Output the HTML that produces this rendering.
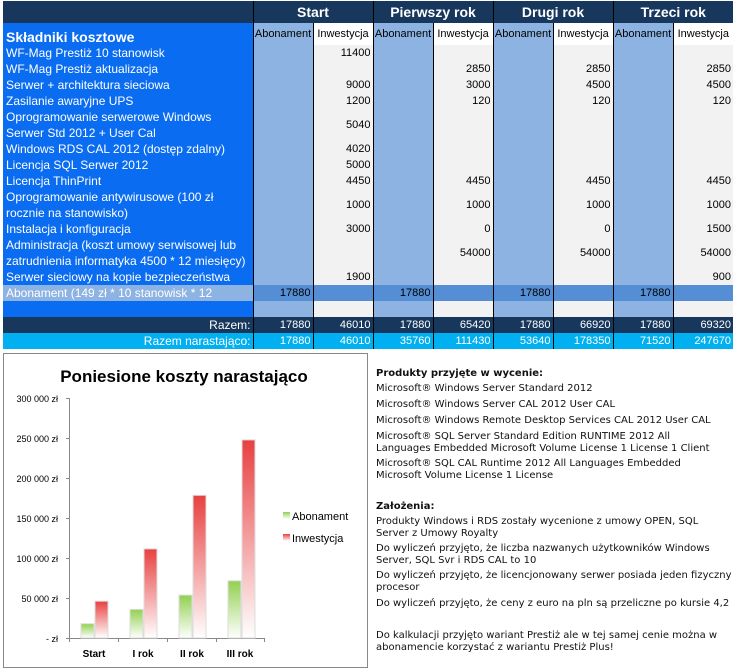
<!DOCTYPE html>
<html><head><meta charset="utf-8"><style>
body{margin:0;width:738px;height:672px;background:#fff;position:relative;overflow:hidden;font-family:"Liberation Sans",sans-serif}
table{position:absolute;left:3px;top:1px;border-collapse:collapse;table-layout:fixed;width:730px}
td{padding:0 2px;font-size:11px;height:16px;line-height:16px;white-space:nowrap;overflow:hidden}
td.l{background:#0a6cf0;color:#fff;font-size:12px;padding-left:3px;white-space:normal}
td.a{background:#8db3e2;text-align:right;border-left:1px solid #000}
td.i{background:#f2f2f2;text-align:right;border-left:1px solid #000}
tr.h1 td{background:#17375d;color:#fff;font-weight:bold;font-size:14px;text-align:center;height:22px;border-left:1px solid #000}
tr.h2 td{height:22px;font-size:11px;text-align:center;border-left:1px solid #000;padding:0}
tr.ab td{background:#558ed5}
tr.ab td.l{background:#8db3e2;color:#fff}
tr.rz td{background:#17375d;color:#fff;text-align:right}
tr.rn td{background:#00b0f0;color:#fff;text-align:right}
.t{position:absolute;left:376px;font-family:"DejaVu Sans",sans-serif;font-size:10px;color:#111;white-space:nowrap;line-height:12px}
</style></head><body>
<table>
<colgroup><col style="width:250px"><col span="8" style="width:60px"></colgroup>
<tr class="h1"><td style="border-left:none"></td><td colspan="2">Start</td><td colspan="2">Pierwszy rok</td><td colspan="2">Drugi rok</td><td colspan="2">Trzeci rok</td></tr>
<tr class="h2"><td class="l" style="font-weight:bold;font-size:14px;text-align:left;border-left:none;padding-left:3px;vertical-align:bottom">Składniki kosztowe</td><td style="background:#8db3e2">Abonament</td><td style="background:#fff">Inwestycja</td><td style="background:#8db3e2">Abonament</td><td style="background:#fff">Inwestycja</td><td style="background:#8db3e2">Abonament</td><td style="background:#fff">Inwestycja</td><td style="background:#8db3e2">Abonament</td><td style="background:#fff">Inwestycja</td></tr>
<tr><td class="l">WF-Mag Prestiż 10 stanowisk</td><td class="a"></td><td class="i">11400</td><td class="a"></td><td class="i"></td><td class="a"></td><td class="i"></td><td class="a"></td><td class="i"></td></tr>
<tr><td class="l">WF-Mag Prestiż aktualizacja</td><td class="a"></td><td class="i"></td><td class="a"></td><td class="i">2850</td><td class="a"></td><td class="i">2850</td><td class="a"></td><td class="i">2850</td></tr>
<tr><td class="l">Serwer + architektura sieciowa</td><td class="a"></td><td class="i">9000</td><td class="a"></td><td class="i">3000</td><td class="a"></td><td class="i">4500</td><td class="a"></td><td class="i">4500</td></tr>
<tr><td class="l">Zasilanie awaryjne UPS</td><td class="a"></td><td class="i">1200</td><td class="a"></td><td class="i">120</td><td class="a"></td><td class="i">120</td><td class="a"></td><td class="i">120</td></tr>
<tr><td class="l" style="height:32px">Oprogramowanie serwerowe Windows<br>Serwer Std 2012 + User Cal</td><td class="a"></td><td class="i">5040</td><td class="a"></td><td class="i"></td><td class="a"></td><td class="i"></td><td class="a"></td><td class="i"></td></tr>
<tr><td class="l">Windows RDS CAL 2012 (dostęp zdalny)</td><td class="a"></td><td class="i">4020</td><td class="a"></td><td class="i"></td><td class="a"></td><td class="i"></td><td class="a"></td><td class="i"></td></tr>
<tr><td class="l">Licencja SQL Serwer 2012</td><td class="a"></td><td class="i">5000</td><td class="a"></td><td class="i"></td><td class="a"></td><td class="i"></td><td class="a"></td><td class="i"></td></tr>
<tr><td class="l">Licencja ThinPrint</td><td class="a"></td><td class="i">4450</td><td class="a"></td><td class="i">4450</td><td class="a"></td><td class="i">4450</td><td class="a"></td><td class="i">4450</td></tr>
<tr><td class="l" style="height:32px">Oprogramowanie antywirusowe (100 zł<br>rocznie na stanowisko)</td><td class="a"></td><td class="i">1000</td><td class="a"></td><td class="i">1000</td><td class="a"></td><td class="i">1000</td><td class="a"></td><td class="i">1000</td></tr>
<tr><td class="l">Instalacja i konfiguracja</td><td class="a"></td><td class="i">3000</td><td class="a"></td><td class="i">0</td><td class="a"></td><td class="i">0</td><td class="a"></td><td class="i">1500</td></tr>
<tr><td class="l" style="height:32px">Administracja (koszt umowy serwisowej lub<br>zatrudnienia informatyka 4500 * 12 miesięcy)</td><td class="a"></td><td class="i"></td><td class="a"></td><td class="i">54000</td><td class="a"></td><td class="i">54000</td><td class="a"></td><td class="i">54000</td></tr>
<tr><td class="l">Serwer sieciowy na kopie bezpieczeństwa</td><td class="a"></td><td class="i">1900</td><td class="a"></td><td class="i"></td><td class="a"></td><td class="i"></td><td class="a"></td><td class="i">900</td></tr>
<tr class="ab"><td class="l" style="white-space:nowrap">Abonament (149 zł * 10 stanowisk * 12</td><td class="a" style="background:#558ed5">17880</td><td class="i" style="background:#558ed5"></td><td class="a" style="background:#558ed5">17880</td><td class="i" style="background:#558ed5"></td><td class="a" style="background:#558ed5">17880</td><td class="i" style="background:#558ed5"></td><td class="a" style="background:#558ed5">17880</td><td class="i" style="background:#558ed5"></td></tr>
<tr><td class="l"></td><td class="a"></td><td class="i"></td><td class="a"></td><td class="i"></td><td class="a"></td><td class="i"></td><td class="a"></td><td class="i"></td></tr>
<tr class="rz"><td style="font-size:12px">Razem:</td><td style="border-left:1px solid #000">17880</td><td style="border-left:1px solid #000">46010</td><td style="border-left:1px solid #000">17880</td><td style="border-left:1px solid #000">65420</td><td style="border-left:1px solid #000">17880</td><td style="border-left:1px solid #000">66920</td><td style="border-left:1px solid #000">17880</td><td style="border-left:1px solid #000">69320</td></tr>
<tr class="rn"><td style="font-size:12px">Razem narastająco:</td><td style="border-left:1px solid #000">17880</td><td style="border-left:1px solid #000">46010</td><td style="border-left:1px solid #000">35760</td><td style="border-left:1px solid #000">111430</td><td style="border-left:1px solid #000">53640</td><td style="border-left:1px solid #000">178350</td><td style="border-left:1px solid #000">71520</td><td style="border-left:1px solid #000">247670</td></tr>
</table>

<svg style="position:absolute;left:0;top:0" width="738" height="672">
<defs>
<linearGradient id="g" x1="0" y1="0" x2="0" y2="1"><stop offset="0" stop-color="#92d050"/><stop offset="1" stop-color="#fff"/></linearGradient>
<linearGradient id="r" x1="0" y1="0" x2="0" y2="1"><stop offset="0" stop-color="#e84040"/><stop offset="1" stop-color="#fff"/></linearGradient>
</defs>
<rect x="3.5" y="353.5" width="364" height="314" fill="#fff" stroke="#888"/>
<text x="184" y="382" font-size="17" font-weight="bold" text-anchor="middle" font-family="Liberation Sans">Poniesione koszty narastająco</text>
<g font-size="9" font-family="Liberation Sans" text-anchor="end">
<text x="58" y="402">300 000 zł</text><text x="58" y="442">250 000 zł</text><text x="58" y="482">200 000 zł</text><text x="58" y="522">150 000 zł</text><text x="58" y="562">100 000 zł</text><text x="58" y="602">50 000 zł</text><text x="58" y="642">- zł</text>
</g>
<g stroke="#888">
<line x1="69.5" y1="398" x2="69.5" y2="638"/><line x1="69" y1="638.5" x2="265" y2="638.5"/>
<line x1="66" y1="398.5" x2="69" y2="398.5"/><line x1="66" y1="438.5" x2="69" y2="438.5"/><line x1="66" y1="478.5" x2="69" y2="478.5"/><line x1="66" y1="518.5" x2="69" y2="518.5"/><line x1="66" y1="558.5" x2="69" y2="558.5"/><line x1="66" y1="598.5" x2="69" y2="598.5"/><line x1="66" y1="638.5" x2="69" y2="638.5"/>
<line x1="69.5" y1="638" x2="69.5" y2="642"/><line x1="118.5" y1="638" x2="118.5" y2="642"/><line x1="167.5" y1="638" x2="167.5" y2="642"/><line x1="216.5" y1="638" x2="216.5" y2="642"/><line x1="264.5" y1="638" x2="264.5" y2="642"/>
</g>
<g stroke="#ddd" stroke-width="1">
<rect x="81" y="623.7" width="13" height="14.3" fill="url(#g)"/>
<rect x="95" y="601.2" width="13" height="36.8" fill="url(#r)"/>
<rect x="130" y="609.4" width="13" height="28.6" fill="url(#g)"/>
<rect x="144" y="548.9" width="13" height="89.1" fill="url(#r)"/>
<rect x="179" y="595.1" width="13" height="42.9" fill="url(#g)"/>
<rect x="193" y="495.3" width="13" height="142.7" fill="url(#r)"/>
<rect x="228" y="580.8" width="13" height="57.2" fill="url(#g)"/>
<rect x="242" y="439.9" width="13" height="198.1" fill="url(#r)"/>
</g>
<g font-size="10" font-weight="bold" font-family="Liberation Sans" text-anchor="middle">
<text x="94" y="657">Start</text><text x="143" y="657">I rok</text><text x="192" y="657">II rok</text><text x="240" y="657">III rok</text>
</g>
<rect x="283" y="512" width="7" height="7" fill="url(#g)"/>
<rect x="283" y="534" width="7" height="7" fill="url(#r)"/>
<text x="292" y="520" font-size="11" font-family="Liberation Sans">Abonament</text>
<text x="292" y="542" font-size="11" font-family="Liberation Sans">Inwestycja</text>
</svg>

<div class="t" style="top:368px;font-weight:bold">Produkty przyjęte w wycenie:</div>
<div class="t" style="top:383px">Microsoft® Windows Server Standard 2012</div>
<div class="t" style="top:399px">Microsoft® Windows Server CAL 2012 User CAL</div>
<div class="t" style="top:415px">Microsoft® Windows Remote Desktop Services CAL 2012 User CAL</div>
<div class="t" style="top:431px">Microsoft® SQL Server Standard Edition RUNTIME 2012 All<br>Languages Embedded Microsoft Volume License 1 License 1 Client</div>
<div class="t" style="top:458px">Microsoft® SQL CAL Runtime 2012 All Languages Embedded<br>Microsoft Volume License 1 License</div>
<div class="t" style="top:501px;font-weight:bold">Założenia:</div>
<div class="t" style="top:516px">Produkty Windows i RDS zostały wycenione z umowy OPEN, SQL<br>Server z Umowy Royalty</div>
<div class="t" style="top:543px">Do wyliczeń przyjęto, że liczba nazwanych użytkowników Windows<br>Server, SQL Svr i RDS CAL to 10</div>
<div class="t" style="top:570px">Do wyliczeń przyjęto, że licencjonowany serwer posiada jeden fizyczny<br>procesor</div>
<div class="t" style="top:598px">Do wyliczeń przyjęto, że ceny z euro na pln są przeliczne po kursie 4,2</div>
<div class="t" style="top:630px">Do kalkulacji przyjęto wariant Prestiż ale w tej samej cenie można w<br>abonamencie korzystać z wariantu Prestiż Plus!</div>
</body></html>
